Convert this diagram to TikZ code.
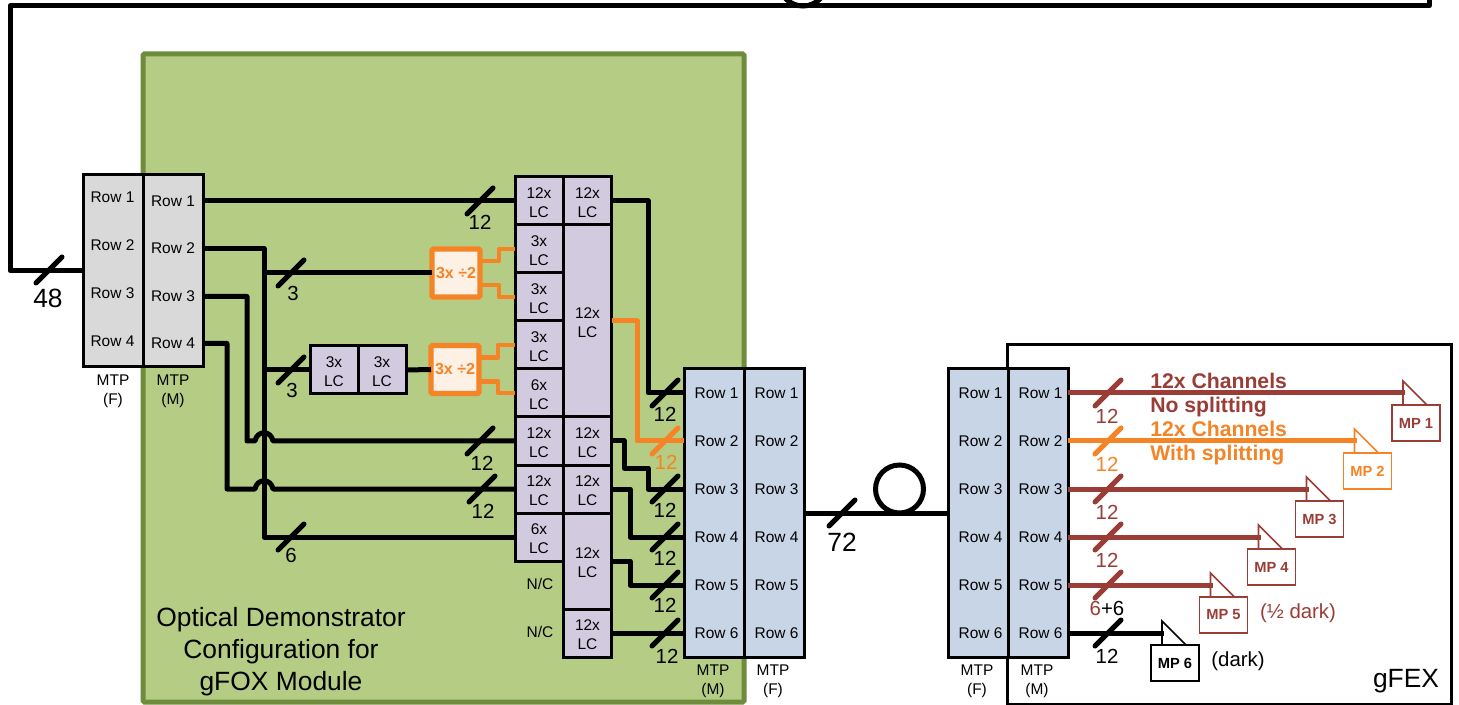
\documentclass[tikz,border=0pt]{standalone}
\usepackage{fontspec}
\setmainfont{Liberation Sans}
\usetikzlibrary{calc}
\definecolor{modgreen}{HTML}{B5CC85}
\definecolor{modedge}{HTML}{6F8C3C}
\definecolor{mtpgray}{HTML}{D9D9D9}
\definecolor{lcpurple}{HTML}{D2CBDF}
\definecolor{mtpblue}{HTML}{C8D5E6}
\definecolor{splitorange}{HTML}{F58426}
\definecolor{splitfill}{HTML}{FDF0E5}
\definecolor{mpbrown}{HTML}{993D36}
\newcommand{\rowfont}{\fontsize{11.6}{14.25}\selectfont}
\newcommand{\busfont}{\fontsize{15.3}{18}\selectfont}
\newcommand{\bigfont}{\fontsize{19.8}{24}\selectfont}
\newcommand{\lctext}[1]{\rule{0pt}{11.3pt}#1\\LC}
\newcommand{\busmark}[3][black]{%
  \coordinate (#2) at (#3);
  \draw[wire,#1,line cap=round] ($(#2)+(-13,13)$) -- ($(#2)+(13,-13)$);}
\newcommand{\mpflag}[4][mpbrown]{%
  \node[mpbox,draw=#1,text=#1] (#2) at (#3) {#4};
  \draw[#1,line width=1.2pt] ($(#2.north west)+(11,0)$) -- ++(0,-24) -- ++(24,24);
  \coordinate (#2tip) at ($(#2.north west)+(13,-12)$);}
\tikzset{
  wire/.style={line width=3.75pt,line join=round},
  frame/.style={draw,line width=2.25pt,inner sep=0pt,outer sep=0pt},
  rowtext/.style={inner sep=0pt,outer sep=0pt,minimum width=45pt,minimum height=36pt,font=\rowfont},
  mtptext/.style={align=center,font=\rowfont},
  lcbox/.style={frame,fill=lcpurple,align=center,font=\rowfont,minimum width=36pt,minimum height=36pt},
  splitbox/.style={draw=splitorange,fill=splitfill,line width=3.9pt,rounded corners=1pt,inner sep=0pt,outer sep=0pt,
    minimum width=36pt,minimum height=36pt,text=splitorange,font=\fontsize{12}{14}\selectfont\bfseries},
  splitwire/.style={splitorange,line width=3.4pt,line join=round},
  buslabel/.style={font=\busfont,inner sep=0pt},
  biglabel/.style={font=\bigfont,inner sep=0pt},
  mpbox/.style={fill=white,line width=1.2pt,inner sep=0pt,outer sep=0pt,minimum width=36pt,minimum height=27pt,
    font=\fontsize{11}{13}\selectfont\bfseries},
  chantext/.style={anchor=west,inner sep=0pt,font=\fontsize{15.9}{19}\selectfont\bfseries}
}

\begin{document}
\begin{tikzpicture}[x=0.75pt,y=-0.75pt]
  \useasboundingbox (0,0) rectangle (1459,705);
  \clip (0,0) rectangle (1459,705);
  \node[draw=modedge,fill=modgreen,line width=3.75pt,rounded corners=1pt,minimum width=450.75pt,minimum height=486pt,inner sep=0pt] (module) at (443.5,378) {};
  \node[frame,fill=white,minimum width=333pt,minimum height=269.25pt] (gfex) at (1229,524.5) {};
  \node[biglabel,align=center] (modtitle) at (281,652) {Optical Demonstrator\\Configuration for\\gFOX Module};
  \node[biglabel] (gfextitle) at (1406,681) {gFEX};

  \node[frame,fill=mtpgray,minimum width=90pt,minimum height=144pt] (leftmtp) at (143,270.5) {};
  \draw[frame] (leftmtp.north) -- (leftmtp.south);
  \node[rowtext] (lf1) at (112.5,197) {Row 1};
  \node[rowtext] (lf2) at (112.5,245) {Row 2};
  \node[rowtext] (lf3) at (112.5,293) {Row 3};
  \node[rowtext] (lf4) at (112.5,341) {Row 4};
  \node[rowtext] (lm1) at (173,201) {Row 1};
  \node[rowtext] (lm2) at (173,248.5) {Row 2};
  \node[rowtext] (lm3) at (173,296.5) {Row 3};
  \node[rowtext] (lm4) at (173,343.5) {Row 4};
  \node[mtptext] (lftag) at (113,391) {MTP\\(F)};
  \node[mtptext] (lmtag) at (173,391) {MTP\\(M)};

  \node[lcbox] (lcl1) at (539,201) {\lctext{12x}};
  \node[lcbox] (lcl2) at (539,249) {\lctext{3x}};
  \node[lcbox] (lcl3) at (539,297) {\lctext{3x}};
  \node[lcbox] (lcl4) at (539,345) {\lctext{3x}};
  \node[lcbox] (lcl5) at (539,393) {\lctext{6x}};
  \node[lcbox] (lcl6) at (539,441) {\lctext{12x}};
  \node[lcbox] (lcl7) at (539,489) {\lctext{12x}};
  \node[lcbox] (lcl8) at (539,537) {\lctext{6x}};
  \node[lcbox] (lcr1) at (587.5,201) {\lctext{12x}};
  \node[lcbox,minimum height=144pt] (lcr2) at (587.5,321) {\lctext{12x}};
  \node[lcbox] (lcr3) at (587.5,441) {\lctext{12x}};
  \node[lcbox] (lcr4) at (587.5,489) {\lctext{12x}};
  \node[lcbox,minimum height=72pt] (lcr5) at (587.5,561) {\lctext{12x}};
  \node[lcbox] (lcr6) at (587.5,633) {\lctext{12x}};
  \node[font=\rowfont] (nc1) at (540,584) {N/C};
  \node[font=\rowfont] (nc2) at (540,632) {N/C};
  \node[lcbox] (patch1) at (334,370) {\lctext{3x}};
  \node[lcbox] (patch2) at (382,370) {\lctext{3x}};
  \node[splitbox] (split1) at (456,273) {3x ÷2};
  \node[splitbox] (split2) at (455,369.5) {3x ÷2};

  \node[frame,fill=mtpblue,minimum width=90pt,minimum height=216pt] (bluea) at (744,513) {};
  \draw[frame] (bluea.north) -- (bluea.south);
  \node[rowtext] (am1) at (716.5,393) {Row 1};
  \node[rowtext] (am2) at (716.5,441) {Row 2};
  \node[rowtext] (am3) at (716.5,489) {Row 3};
  \node[rowtext] (am4) at (716.5,537) {Row 4};
  \node[rowtext] (am5) at (716.5,585) {Row 5};
  \node[rowtext] (am6) at (716.5,633) {Row 6};
  \node[rowtext] (af1) at (776.5,393) {Row 1};
  \node[rowtext] (af2) at (776.5,441) {Row 2};
  \node[rowtext] (af3) at (776.5,489) {Row 3};
  \node[rowtext] (af4) at (776.5,537) {Row 4};
  \node[rowtext] (af5) at (776.5,585) {Row 5};
  \node[rowtext] (af6) at (776.5,633) {Row 6};
  \node[mtptext] (amtag) at (713,681) {MTP\\(M)};
  \node[mtptext] (aftag) at (773,681) {MTP\\(F)};

  \node[frame,fill=mtpblue,minimum width=90pt,minimum height=216pt] (blueb) at (1008,513) {};
  \draw[frame] (blueb.north) -- (blueb.south);
  \node[rowtext] (bf1) at (980.5,393) {Row 1};
  \node[rowtext] (bf2) at (980.5,441) {Row 2};
  \node[rowtext] (bf3) at (980.5,489) {Row 3};
  \node[rowtext] (bf4) at (980.5,537) {Row 4};
  \node[rowtext] (bf5) at (980.5,585) {Row 5};
  \node[rowtext] (bf6) at (980.5,633) {Row 6};
  \node[rowtext] (bm1) at (1040.5,393) {Row 1};
  \node[rowtext] (bm2) at (1040.5,441) {Row 2};
  \node[rowtext] (bm3) at (1040.5,489) {Row 3};
  \node[rowtext] (bm4) at (1040.5,537) {Row 4};
  \node[rowtext] (bm5) at (1040.5,585) {Row 5};
  \node[rowtext] (bm6) at (1040.5,633) {Row 6};
  \node[mtptext] (bftag) at (977,681) {MTP\\(F)};
  \node[mtptext] (bmtag) at (1037,681) {MTP\\(M)};

  \coordinate (topleft) at (10,6);
  \coordinate (topright) at (1429,6);
  \coordinate (topend) at (1429,-6);
  \draw[wire] (topend) -- (topright) -- (topleft) |- (leftmtp.west);
  \node[draw,circle,line width=3.75pt,minimum size=36pt,inner sep=0pt] (looptop) at (803,-18) {};
  \busmark{bus48}{49,270}
  \node[biglabel] (lab48) at (48,298) {48};

  \coordinate (tap6) at (264,537);
  \coordinate (tap3a) at (264,273);
  \coordinate (tap3b) at (264,370);
  \draw[wire] (lm1.east) -- (lcl1.west);
  \draw[wire] (lm2.east) -| (tap6) -- (lcl8.west);
  \draw[wire] (tap3a) -- (split1.west);
  \draw[wire] (tap3b) -- (patch1.west);
  \draw[wire] (patch2.east) -- (split2.west);
  \draw[wire] (lm3.east) -| (247,441) -- (255,441) .. controls (257,430) and (271,430) .. (273,441) -- (lcl6.west);
  \draw[wire] (lm4.east) -| (227,489) -- (255,489) .. controls (257,478) and (271,478) .. (273,489) -- (lcl7.west);
  \busmark{bus1}{480,201}
  \node[buslabel] (lab1) at (480,222) {12};
  \busmark{bus3a}{291,273}
  \node[buslabel] (lab3a) at (293,293) {3};
  \busmark{bus3b}{291,370}
  \node[buslabel] (lab3b) at (292,390) {3};
  \busmark{bus6}{291,537}
  \node[buslabel] (lab6) at (291,555) {6};
  \busmark{bus2}{480,441}
  \node[buslabel] (lab2) at (482,463) {12};
  \busmark{bus4}{482,489}
  \node[buslabel] (lab4) at (483,511) {12};

  \draw[splitwire] ($(split1.east)+(0,-12)$) -| (499,249) -- (lcl2.west);
  \draw[splitwire] ($(split1.east)+(0,12)$) -| (499,297) -- (lcl3.west);
  \draw[splitwire] ($(split2.east)+(0,-12)$) -| (498,345) -- (lcl4.west);
  \draw[splitwire] ($(split2.east)+(0,12)$) -| (498,393) -- (lcl5.west);

  \draw[wire] (lcr1.east) -| (648,393) -- (bluea.west |- am1);
  \draw[wire,splitorange] (lcr2.east) -| (637,441) -- (bluea.west |- am2);
  \draw[wire] (lcr3.east) -| (624,468) -| (648,489) -- (bluea.west |- am3);
  \draw[wire] (lcr4.east) -| (630,537) -- (bluea.west |- am4);
  \draw[wire] (lcr5.east) -| (630,585) -- (bluea.west |- am5);
  \draw[wire] (lcr6.east) -- (bluea.west |- am6);
  \busmark{busa1}{665,393}
  \node[buslabel] (laba1) at (665,414) {12};
  \busmark[splitorange]{busa2}{665,441}
  \node[buslabel,text=splitorange] (laba2) at (666,462) {12};
  \busmark{busa3}{665,489}
  \node[buslabel] (laba3) at (665,510) {12};
  \busmark{busa4}{665,537}
  \node[buslabel] (laba4) at (665,558) {12};
  \busmark{busa5}{665,585}
  \node[buslabel] (laba5) at (665,605) {12};
  \busmark{busa6}{665,633}
  \node[buslabel] (laba6) at (667,656) {12};

  \draw[wire] (bluea.east) -- (blueb.west);
  \node[draw,circle,line width=3.75pt,minimum size=36pt,inner sep=0pt] (loopmid) at (899.5,489) {};
  \busmark{bus72}{842,513}
  \node[biglabel] (lab72) at (842,542) {72};

  \mpflag{mp1}{1416,423}{MP 1}
  \mpflag[splitorange]{mp2}{1367.5,471}{MP 2}
  \mpflag{mp3}{1319.5,519}{MP 3}
  \mpflag{mp4}{1271.5,567}{MP 4}
  \mpflag{mp5}{1223.5,615}{MP 5}
  \mpflag[black]{mp6}{1175,663}{MP 6}
  \draw[wire,mpbrown] (blueb.east |- bm1) -- (mp1tip);
  \draw[wire,splitorange] (blueb.east |- bm2) -- (mp2tip);
  \draw[wire,mpbrown] (blueb.east |- bm3) -- (mp3tip);
  \draw[wire,mpbrown] (blueb.east |- bm4) -- (mp4tip);
  \draw[wire,mpbrown] (blueb.east |- bm5) -- (mp5tip);
  \draw[wire] (blueb.east |- bm6) -- (mp6tip);
  \busmark[mpbrown]{busb1}{1108,393}
  \node[buslabel,text=mpbrown] (labb1) at (1107,416) {12};
  \busmark[splitorange]{busb2}{1108,441}
  \node[buslabel,text=splitorange] (labb2) at (1107,464) {12};
  \busmark[mpbrown]{busb3}{1108,489}
  \node[buslabel,text=mpbrown] (labb3) at (1107,512) {12};
  \busmark[mpbrown]{busb4}{1108,537}
  \node[buslabel,text=mpbrown] (labb4) at (1107,560) {12};
  \busmark[mpbrown]{busb5}{1108,585}
  \node[buslabel] (labb5) at (1107,608) {\textcolor{mpbrown}{6}+6};
  \busmark{busb6}{1108,633}
  \node[buslabel] (labb6) at (1107,656) {12};

  \node[chantext,text=mpbrown] (chan1) at (1150,381) {12x Channels};
  \node[chantext,text=mpbrown] (chan2) at (1150,407.5) {No splitting};
  \node[chantext,text=splitorange] (chan3) at (1150,429) {12x Channels};
  \node[chantext,text=splitorange] (chan4) at (1150,455.5) {With splitting};
  \node[buslabel,text=mpbrown] (halfdark) at (1298,613) {(½ dark)};
  \node[buslabel] (dark) at (1238,661) {(dark)};
\end{tikzpicture}
\end{document}
